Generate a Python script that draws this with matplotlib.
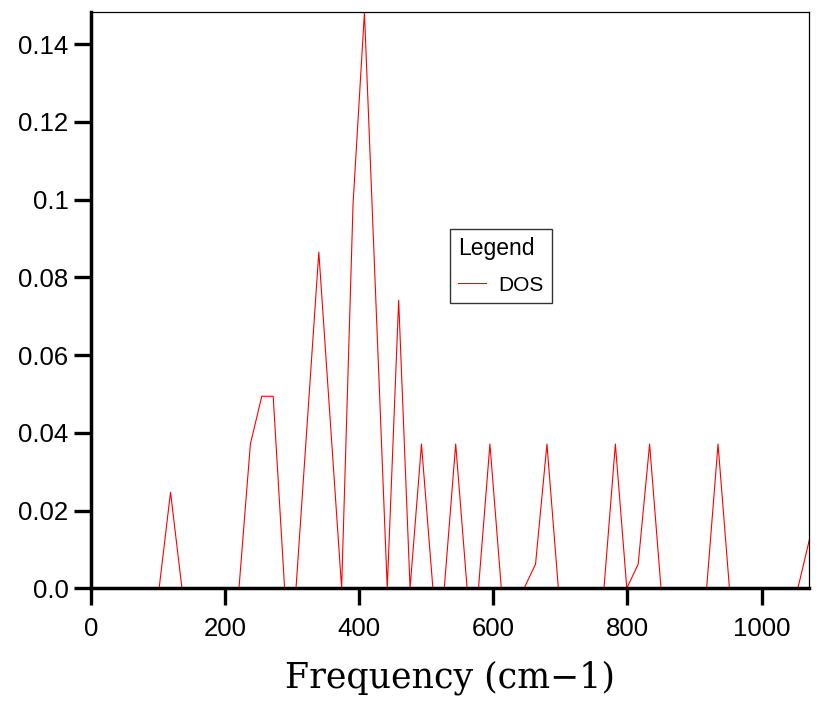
import matplotlib
matplotlib.use("Agg")
import matplotlib.pyplot as plt

# frequency grid (cm-1) and density of states
freq = [0, 17, 34, 51, 68, 85, 102, 119, 136, 153, 170, 187, 204, 221, 238, 255,
        272, 289, 306, 323, 340, 357, 374, 391, 408, 425, 442, 459, 476, 493, 510, 527,
        544, 561, 578, 595, 612, 629, 646, 663, 680, 697, 714, 731, 748, 765, 782, 799,
        816, 833, 850, 867, 884, 901, 918, 935, 952, 969, 986, 1003, 1020, 1037, 1054, 1071]
dos = [0, 0, 0, 0, 0, 0, 0, 0.0247, 0, 0, 0, 0, 0, 0, 0.0371, 0.0494,
       0.0494, 0, 0, 0.0432, 0.0865, 0.0432, 0, 0.0988, 0.1482, 0.0741, 0, 0.0741, 0, 0.0371, 0, 0,
       0.0371, 0, 0, 0.0371, 0, 0, 0, 0.0062, 0.0371, 0, 0, 0, 0, 0, 0.0371, 0,
       0.0062, 0.0371, 0, 0, 0, 0, 0, 0.0371, 0, 0, 0, 0, 0, 0, 0, 0.0124]

xticks = [0, 200, 400, 600, 800, 1000]
yticks = [0.0, 0.02, 0.04, 0.06, 0.08, 0.1, 0.12, 0.14]
ytick_labels = ["0.0", "0.02", "0.04", "0.06", "0.08", "0.1", "0.12", "0.14"]

plt.rcParams['font.family'] = ['Liberation Sans', 'DejaVu Sans']

fig = plt.figure(figsize=(8.32, 7.07), dpi=100)
ax = fig.add_axes([0.109, 0.168, 0.8637, 0.8146])

ax.plot(freq, dos, color='red', linewidth=0.8, label='DOS')

ax.set_xlim(0, 1071)
ax.set_ylim(0, 0.1482)
ax.set_xticks(xticks)
ax.set_xticklabels([str(t) for t in xticks])
ax.set_yticks(yticks)
ax.set_yticklabels(ytick_labels)

ax.spines['left'].set_linewidth(2.5)
ax.spines['bottom'].set_linewidth(2.5)
ax.spines['top'].set_linewidth(0.9)
ax.spines['right'].set_linewidth(0.9)

ax.tick_params(axis='both', direction='out', length=12.5, width=2.4, labelsize=18.5)
ax.tick_params(axis='x', pad=8)
ax.tick_params(axis='y', pad=3.5)

ax.set_xlabel("Frequency (cm\u22121)", family='DejaVu Serif', fontsize=25, labelpad=14)

leg = ax.legend(title="Legend", loc='upper left', bbox_to_anchor=(0.5, 0.6236),
                borderaxespad=0, fontsize=15, title_fontsize=16.5, frameon=True,
                fancybox=False, edgecolor='black', handlelength=1.35, borderpad=0.38,
                alignment='left', handletextpad=0.6, labelspacing=0.75)
leg.get_frame().set_linewidth(1.0)

fig.savefig("out.png", dpi=100)
